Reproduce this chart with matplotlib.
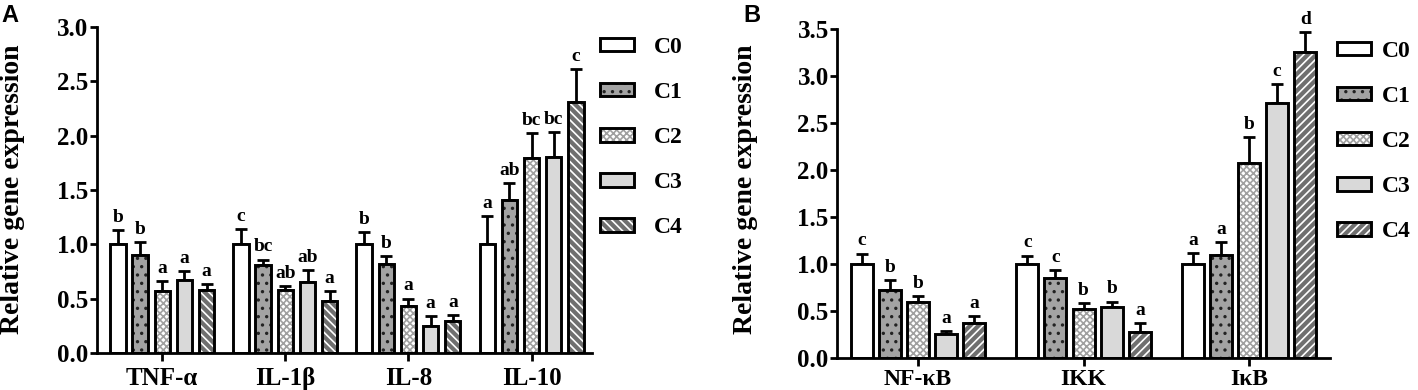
import matplotlib
matplotlib.use("Agg")
import matplotlib.pyplot as plt
from matplotlib.patches import Patch
from matplotlib.legend_handler import HandlerTuple
import numpy as np

groups = ["C0", "C1", "C2", "C3", "C4"]

genes_a = ["TNF-α", "IL-1β", "IL-8", "IL-10"]
means_a = {
    "C0": [1.00, 1.00, 1.00, 1.00],
    "C1": [0.90, 0.81, 0.82, 1.41],
    "C2": [0.57, 0.58, 0.43, 1.79],
    "C3": [0.67, 0.65, 0.25, 1.80],
    "C4": [0.58, 0.48, 0.29, 2.31],
}
errs_a = {
    "C0": [0.13, 0.14, 0.11, 0.26],
    "C1": [0.12, 0.05, 0.07, 0.15],
    "C2": [0.095, 0.035, 0.07, 0.23],
    "C3": [0.085, 0.11, 0.09, 0.23],
    "C4": [0.055, 0.09, 0.06, 0.30],
}
letters_a = {
    "C0": ["b", "c", "b", "a"],
    "C1": ["b", "bc", "b", "ab"],
    "C2": ["a", "ab", "a", "bc"],
    "C3": ["a", "ab", "a", "bc"],
    "C4": ["a", "a", "a", "c"],
}

genes_b = ["NF-κB", "IKK", "IκB"]
means_b = {
    "C0": [1.00, 1.00, 1.00],
    "C1": [0.72, 0.85, 1.10],
    "C2": [0.60, 0.52, 2.07],
    "C3": [0.25, 0.54, 2.71],
    "C4": [0.37, 0.28, 3.26],
}
errs_b = {
    "C0": [0.11, 0.09, 0.115],
    "C1": [0.11, 0.085, 0.13],
    "C2": [0.06, 0.065, 0.28],
    "C3": [0.035, 0.06, 0.20],
    "C4": [0.08, 0.09, 0.21],
}
letters_b = {
    "C0": ["c", "c", "a"],
    "C1": ["b", "c", "a"],
    "C2": ["b", "b", "b"],
    "C3": ["a", "b", "c"],
    "C4": ["a", "a", "d"],
}

# face colour, hatch, hatch colour
styles = {
    "C0": ("white", None, "black"),
    "C1": ("#a3a3a3", "..", "#222222"),
    "C2": ("white", "xxxxx", "#a0a0a0"),
    "C3": ("#d9d9d9", None, "black"),
    "C4": ("#6f6f6f", "\\\\\\\\", "white"),
}

plt.rcParams["font.family"] = ["Liberation Serif", "DejaVu Serif"]
plt.rcParams["font.weight"] = "bold"
plt.rcParams["hatch.linewidth"] = 1.2

fig = plt.figure(figsize=(14.18, 3.9), dpi=100)


def draw_panel(ax, genes, means, errs, letters, pitch, width, c4_hatch, ylim,
               yticks, xfont, xpad):
    x = np.arange(len(genes))
    for i, g in enumerate(groups):
        fc, hatch, hc = styles[g]
        if g == "C4":
            hatch = c4_hatch
        pos = x + (i - 2) * pitch
        ax.bar(pos, means[g], width, color=fc, hatch=hatch, edgecolor=hc,
               linewidth=0, zorder=2)
        ax.bar(pos, means[g], width, facecolor="none", edgecolor="black",
               linewidth=2.1, zorder=3)
        ax.errorbar(pos, means[g], yerr=[np.zeros(len(genes)), errs[g]],
                    fmt="none", ecolor="black", elinewidth=2, capsize=4.5,
                    capthick=2, zorder=1)
        for px, m, e, t in zip(pos, means[g], errs[g], letters[g]):
            ax.annotate(t, (px, m + e), xytext=(0, 3), textcoords="offset points",
                        ha="center", va="bottom", fontsize=14, fontweight="bold")
    ax.set_xticks(x)
    ax.set_xticklabels(genes, fontsize=xfont, fontweight="bold")
    ax.set_ylim(*ylim)
    ax.set_yticks(yticks)
    ax.set_yticklabels([f"{v:.1f}" for v in yticks], fontsize=18, fontweight="bold")
    for s in ["top", "right"]:
        ax.spines[s].set_visible(False)
    for s in ["left", "bottom"]:
        ax.spines[s].set_linewidth(2)
    ax.tick_params(axis="y", length=5, width=2, pad=1)
    ax.tick_params(axis="x", length=6, width=2, pad=xpad)

    handles = []
    for g in groups:
        fc, hatch, hc = styles[g]
        if g == "C4":
            hatch = c4_hatch
        handles.append((Patch(facecolor=fc, hatch=hatch, edgecolor=hc, linewidth=0),
                        Patch(facecolor="none", edgecolor="black", linewidth=2.1)))
    return handles


legend_kw = dict(handler_map={tuple: HandlerTuple(ndivide=1, pad=0)},
                 loc="upper left", frameon=False,
                 prop={"weight": "bold", "size": 17}, handlelength=1.45,
                 handleheight=0.5, labelspacing=1.02,
                 borderpad=0, borderaxespad=0)

ax_a = fig.add_axes([0.0684, 0.0949, 0.349, 0.836])
h = draw_panel(ax_a, genes_a, means_a, errs_a, letters_a, 0.18, 0.125, "\\\\\\\\",
               (0, 3.0), np.arange(0, 3.01, 0.5), 18, 4)
ax_a.set_xlim(-0.53, 3.49)
fig.legend(h, groups, bbox_to_anchor=(0.423, 0.905), handletextpad=0.85,
           **legend_kw)

ax_b = fig.add_axes([0.5903, 0.0821, 0.3477, 0.8435])
h = draw_panel(ax_b, genes_b, means_b, errs_b, letters_b, 0.17, 0.133, "////",
               (0, 3.5), np.arange(0, 3.51, 0.5), 17, 2)
ax_b.set_xlim(-0.49, 2.49)
fig.legend(h, groups, bbox_to_anchor=(0.943, 0.895), handletextpad=0.45,
           **legend_kw)

for xc in (0.0085, 0.5255):
    fig.text(xc, 0.515, "Relative gene expression", rotation=90, ha="center",
             va="center", fontsize=20, fontweight="bold")

fig.text(0.001, 0.99, "A", ha="left", va="top", fontsize=17, fontweight="bold",
         family="Liberation Sans")
fig.text(0.524, 0.99, "B", ha="left", va="top", fontsize=17, fontweight="bold",
         family="Liberation Sans")

fig.savefig("out.png", dpi=100)
